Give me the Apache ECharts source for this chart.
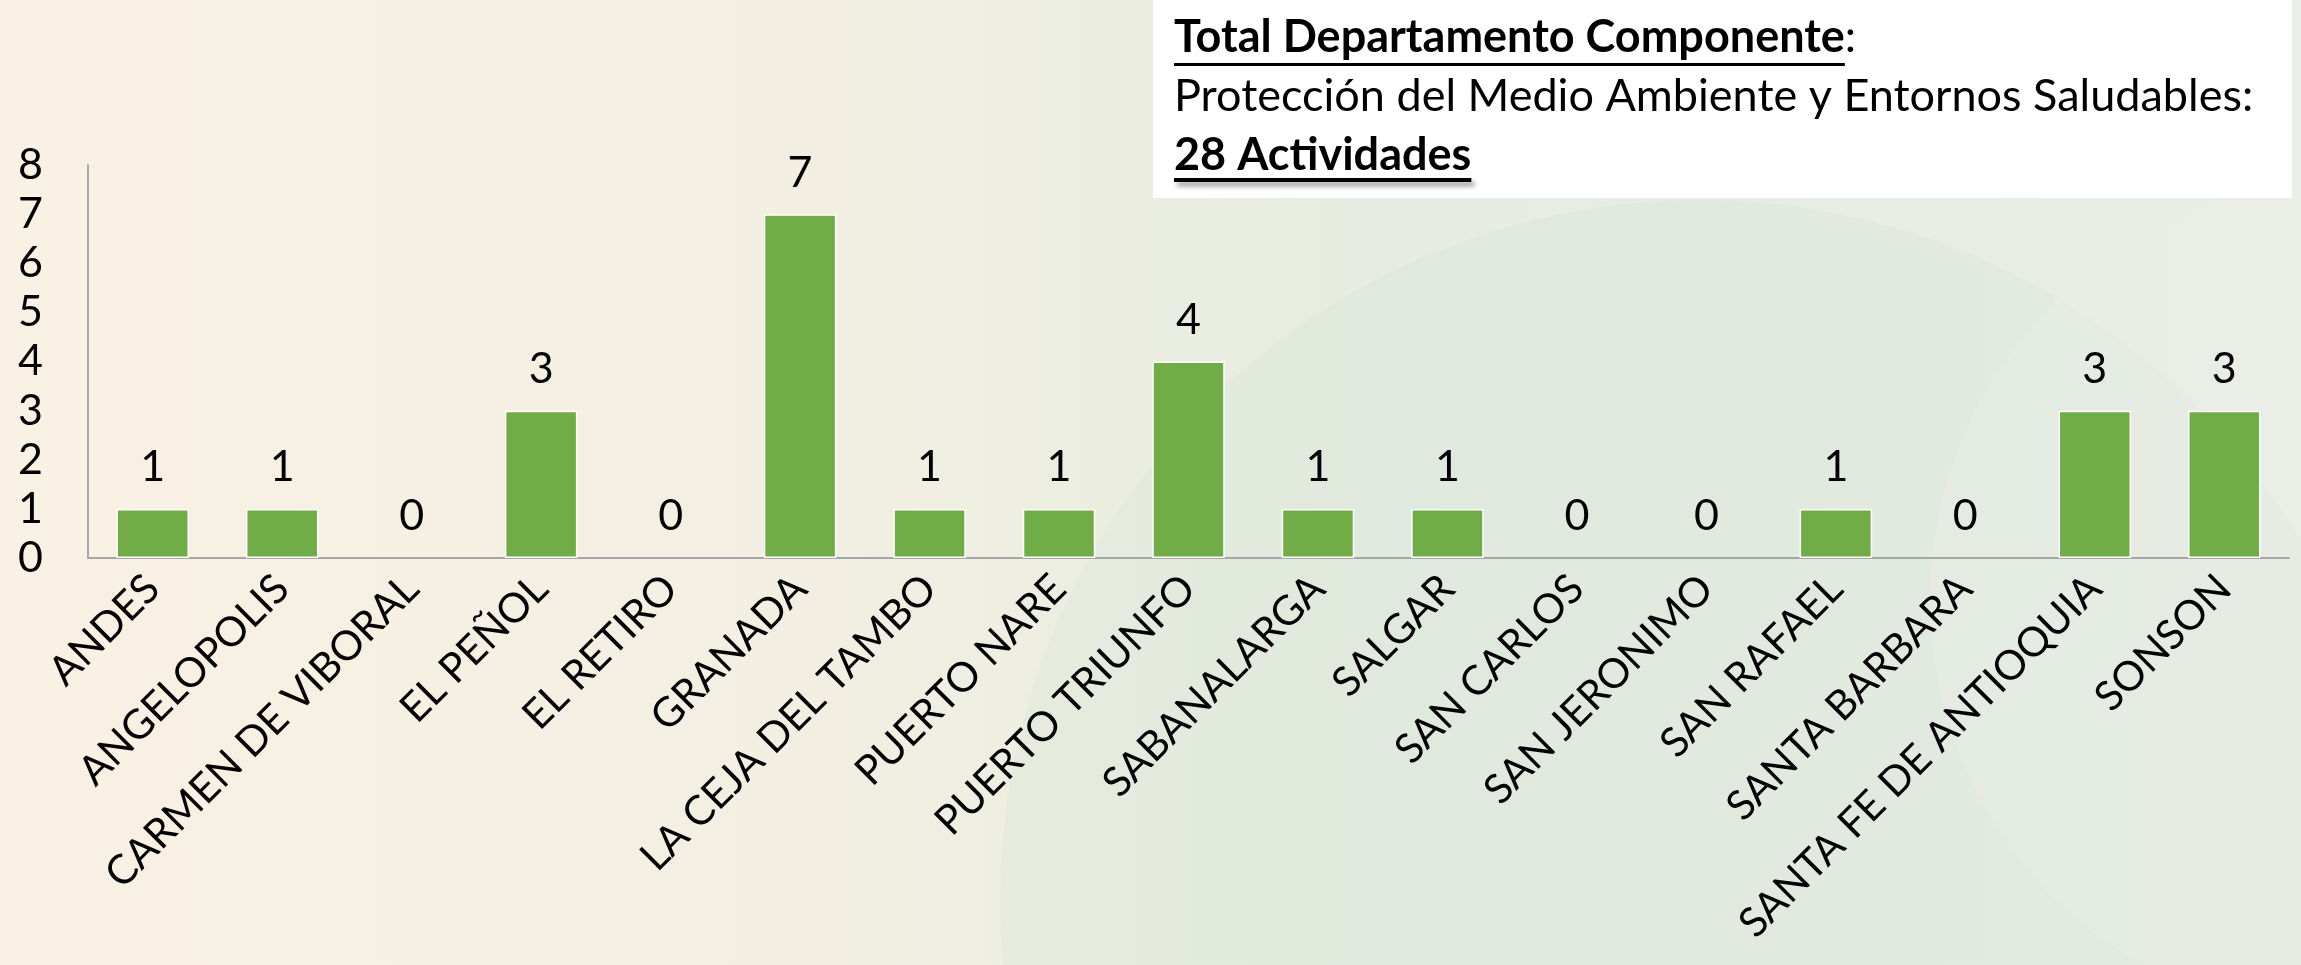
<!DOCTYPE html>
<html><head><meta charset="utf-8">
<script src="https://cdn.jsdelivr.net/npm/echarts@6/dist/echarts.min.js"></script>
<style>html,body{margin:0;padding:0;}#c{width:2301px;height:965px;}</style>
</head><body><div id="c"></div>
<script>
const categories = ["ANDES","ANGELOPOLIS","CARMEN DE VIBORAL","EL PEÑOL","EL RETIRO","GRANADA","LA CEJA DEL TAMBO","PUERTO NARE","PUERTO TRIUNFO","SABANALARGA","SALGAR","SAN CARLOS","SAN JERONIMO","SAN RAFAEL","SANTA BARBARA","SANTA FE DE ANTIOQUIA","SONSON"];
const values = [1,1,0,3,0,7,1,1,4,1,1,0,0,1,0,3,3];
const yTicks = [0,1,2,3,4,5,6,7,8];
const boxLine1 = "Total Departamento Componente";
const boxLine2 = "Protección del Medio Ambiente y Entornos Saludables:";
const boxLine3 = "28 Actividades";

const FONT = "Lato";
const BOX_FS = 45;
function measure(text, weight, size) {
  const ctx = document.createElement('canvas').getContext('2d');
  ctx.font = weight + ' ' + size + 'px ' + FONT;
  return ctx.measureText(text).width;
}
const w1 = measure(boxLine1, 'bold', BOX_FS);
const w3 = measure(boxLine3, 'bold', BOX_FS);

const chart = echarts.init(document.getElementById('c'));
chart.setOption({
  backgroundColor: {
    type: 'linear', x: 0, y: 0, x2: 1, y2: 0,
    colorStops: [
      {offset: 0, color: '#f9f1e3'},
      {offset: 0.35, color: '#f2efe2'},
      {offset: 0.6, color: '#e6ece1'},
      {offset: 1, color: '#e9eee6'}
    ]
  },
  graphic: [
    {type: 'circle', z: -10, shape: {cx: 1700, cy: 900, r: 700},
     style: {fill: 'rgba(200,220,205,0.18)'}},
    {type: 'circle', z: -10, shape: {cx: 2350, cy: 600, r: 420},
     style: {fill: 'rgba(235,238,230,0.4)'}},
    {type: 'rect', shape: {x: 1153, y: 0, width: 1139, height: 198},
     style: {fill: '#ffffff'}},
    {type: 'text', left: 1174, top: 15, style: {
      rich: {
        u: {fontFamily: FONT, fontSize: BOX_FS, fontWeight: 'bold', color: '#000'},
        n: {fontFamily: FONT, fontSize: BOX_FS, color: '#000'}
      },
      text: '{u|' + boxLine1 + '}{n|:}', fill: '#000'
    }},
    {type: 'rect', shape: {x: 1174, y: 63, width: w1, height: 3}, style: {fill: '#000'}},
    {type: 'text', left: 1174, top: 74, style: {
      text: boxLine2, fontFamily: FONT, fontSize: BOX_FS, fill: '#000'
    }},
    {type: 'rect', shape: {x: 1174, y: 178, width: w3, height: 4}, style: {fill: '#000', shadowColor: 'rgba(0,0,0,0.45)', shadowBlur: 5, shadowOffsetX: 3, shadowOffsetY: 4}},
    {type: 'text', left: 1174, top: 133, style: {
      text: boxLine3, fontFamily: FONT, fontSize: BOX_FS, fontWeight: 'bold', fill: '#000',
      shadowColor: 'rgba(0,0,0,0.45)', shadowBlur: 5, shadowOffsetX: 3, shadowOffsetY: 4
    }}
  ],
  grid: {left: 88, right: 12, top: 165, bottom: 407, containLabel: false},
  xAxis: {
    type: 'category', data: categories,
    axisLine: {show: true, lineStyle: {color: '#a6a6a6', width: 2}},
    axisTick: {show: false},
    axisLabel: {rotate: 45, interval: 0, fontFamily: FONT, fontSize: 41, color: '#000', margin: 24}
  },
  yAxis: {
    type: 'value', min: 0, max: 8, interval: 1,
    axisLine: {show: true, lineStyle: {color: '#a6a6a6', width: 2}},
    axisTick: {show: false},
    splitLine: {show: false},
    axisLabel: {fontFamily: FONT, fontSize: 43, color: '#000', margin: 70, align: 'left',
      formatter: v => yTicks.includes(v) ? String(v) : ''}
  },
  series: [{
    type: 'bar', barWidth: '56%', z: 1,
    data: values.map(v => ({value: v, itemStyle: {borderWidth: v === 0 ? 0 : 1.5}})),
    itemStyle: {color: '#70ad47', borderColor: '#ffffff'},
    label: {show: true, position: 'top', distance: 20, fontFamily: FONT, fontSize: 43, color: '#000'}
  }]
});
</script></body></html>
